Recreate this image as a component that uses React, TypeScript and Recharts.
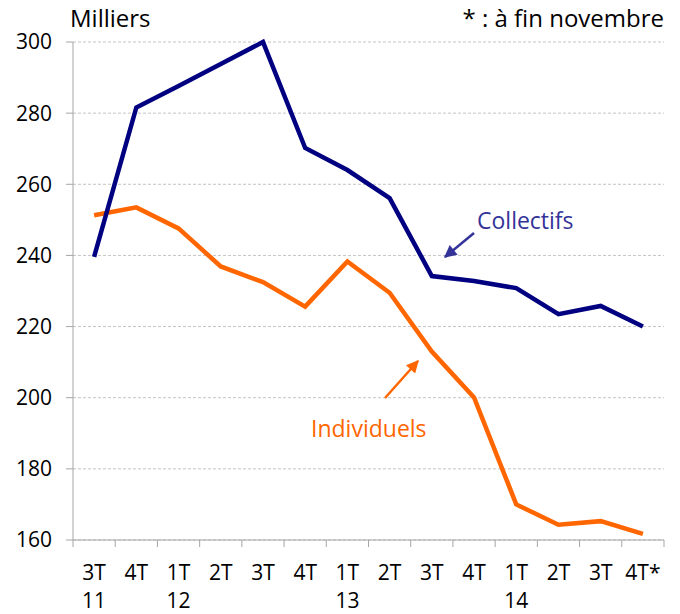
import { LineChart, Line, XAxis, YAxis, CartesianGrid } from "recharts";

const quarters = ["3T", "4T", "1T", "2T", "3T", "4T", "1T", "2T", "3T", "4T", "1T", "2T", "3T", "4T*"];
const years = ["11", "", "12", "", "", "", "13", "", "", "", "14", "", "", ""];
const collectifs = [239.6, 281.6, 287.6, 293.8, 300.0, 270.2, 264.0, 256.1, 234.2, 232.8, 230.8, 223.5, 225.8, 220.0];
const individuels = [251.3, 253.5, 247.6, 236.9, 232.5, 225.6, 238.3, 229.5, 213.0, 200.1, 170.0, 164.3, 165.3, 161.7];
const yTicks = [160, 180, 200, 220, 240, 260, 280, 300];

const data = quarters.map((q, i) => ({
  key: `${q}-${i}`,
  quarter: q,
  year: years[i],
  collectifs: collectifs[i],
  individuels: individuels[i],
}));

const FONT = "'Open Sans', sans-serif";
const AXIS = "#a6a6a6";
const NAVY = "#000080";
const ORANGE = "#FF6600";
const LABEL_BLUE = "#333399";

const W = 680;
const H = 614;
const PLOT_LEFT = 73;
const PLOT_RIGHT = 664;
const HALF_BAND = (PLOT_RIGHT - PLOT_LEFT) / quarters.length / 2;

const QuarterTick = ({ x, y, payload, index, visibleTicksCount }: any) => {
  const d = data[payload.index ?? index];
  const last = index === (visibleTicksCount ?? quarters.length) - 1;
  return (
    <g>
      <line x1={x - HALF_BAND} x2={x - HALF_BAND} y1={y - 7} y2={y} stroke={AXIS} />
      {last && <line x1={x + HALF_BAND} x2={x + HALF_BAND} y1={y - 7} y2={y} stroke={AXIS} />}
      <text x={x} y={y} dy={33} textAnchor="middle" fontSize={21} fill="#000" fontFamily={FONT}>
        {d?.quarter}
      </text>
      {d?.year && (
        <text x={x} y={y} dy={61} textAnchor="middle" fontSize={21} fill="#000" fontFamily={FONT}>
          {d.year}
        </text>
      )}
    </g>
  );
};

export default function App() {
  return (
    <div style={{ position: "relative", width: W, height: H, margin: "-8px 0 0 -8px", background: "#fff", fontFamily: FONT }}>
      <LineChart width={W} height={H} data={data} margin={{ top: 42, right: W - PLOT_RIGHT, bottom: 0, left: 0 }}>
        <CartesianGrid vertical={false} stroke="#c4c4c4" strokeDasharray="3 2" />
        <XAxis
          dataKey="key"
          scale="band"
          interval={0}
          height={74}
          tickSize={7}
          tickMargin={0}
          tickLine={false}
          axisLine={{ stroke: AXIS }}
          tick={<QuarterTick />}
        />
        <YAxis
          width={PLOT_LEFT}
          domain={[160, 300]}
          ticks={yTicks}
          interval={0}
          tickSize={7}
          tickMargin={14}
          tickLine={{ stroke: AXIS }}
          axisLine={{ stroke: AXIS }}
          tick={{ fill: "#000", fontSize: 21, fontFamily: FONT }}
        />
        <Line
          dataKey="individuels"
          stroke={ORANGE}
          strokeWidth={4.5}
          strokeLinejoin="miter"
          dot={false}
          activeDot={false}
          isAnimationActive={false}
        />
        <Line
          dataKey="collectifs"
          stroke={NAVY}
          strokeWidth={4.5}
          strokeLinejoin="miter"
          dot={false}
          activeDot={false}
          isAnimationActive={false}
        />
      </LineChart>
      <svg width={W} height={H} style={{ position: "absolute", left: 0, top: 0, pointerEvents: "none" }}>
        <defs>
          <marker id="headBlue" viewBox="0 0 10 10" refX="9" refY="5" markerWidth="5.5" markerHeight="5" orient="auto">
            <path d="M0,0 L10,5 L0,10 z" fill={LABEL_BLUE} />
          </marker>
          <marker id="headOrange" viewBox="0 0 10 10" refX="9" refY="5" markerWidth="5.5" markerHeight="5" orient="auto">
            <path d="M0,0 L10,5 L0,10 z" fill={ORANGE} />
          </marker>
        </defs>
        <text x={70} y={27} fontSize={24} fill="#000" fontFamily={FONT}>Milliers</text>
        <text x={664} y={27} fontSize={24} fill="#000" textAnchor="end" fontFamily={FONT}>* : à fin novembre</text>
        <line x1={474} y1={233} x2={445} y2={257} stroke={LABEL_BLUE} strokeWidth={2.5} markerEnd="url(#headBlue)" />
        <text x={477} y={229} fontSize={23} fill={LABEL_BLUE} fontFamily={FONT}>Collectifs</text>
        <line x1={385} y1={398} x2={418} y2={361} stroke={ORANGE} strokeWidth={2.5} markerEnd="url(#headOrange)" />
        <text x={311} y={437} fontSize={23} fill={ORANGE} fontFamily={FONT}>Individuels</text>
      </svg>
    </div>
  );
}
